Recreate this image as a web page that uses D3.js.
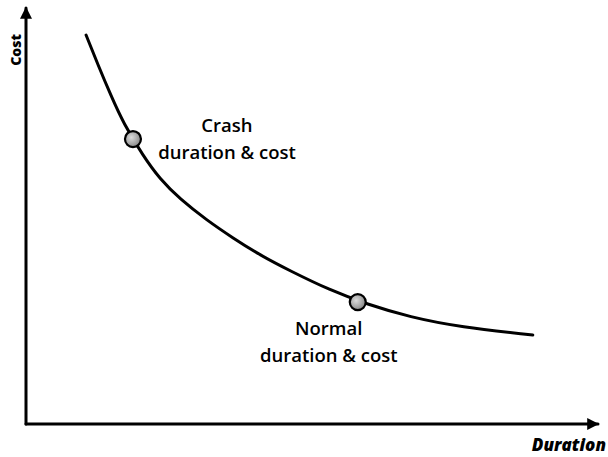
<!DOCTYPE html>
<html>
<head>
<meta charset="utf-8">
<script src="https://cdn.jsdelivr.net/npm/d3@7"></script>
<style>
  body { margin: 0; background: #fff; }
  text { font-family: "Open Sans", "Noto Sans", sans-serif; }
</style>
</head>
<body>
<svg id="chart" width="608" height="457"></svg>
<script>
// time-cost trade-off curve (arbitrary units, 0-100 on both axes)
const duration = [10.5, 12.6, 14.9, 17.0, 20.5, 23.4, 26.9, 31.6, 36.2, 40.9, 46.2, 53.1, 59.6, 67.1, 75.9, 88.6];
const cost     = [93.5, 86.3, 78.8, 72.4, 64.4, 58.9, 54.1, 49.0, 44.7, 40.6, 36.8, 32.2, 28.8, 25.7, 23.3, 21.4];

const pointNames    = ["Crash", "Normal"];
const pointDuration = [18.7, 58.0];
const pointCost     = [68.5, 29.3];
const pointLabels   = [["Crash", "duration & cost"], ["Normal", "duration & cost"]];

const xTitle = "Duration";
const yTitle = "Cost";

var svg = d3.select("#chart");
const margin = {top: 8, right: 10, bottom: 33, left: 26};
const width  = +svg.attr("width") - margin.left - margin.right;
const height = +svg.attr("height") - margin.top - margin.bottom;

var x = d3.scaleLinear().domain([0, 100]).range([0, width]);
var y = d3.scaleLinear().domain([0, 100]).range([height, 0]);

var defs = svg.append("defs");
defs.append("marker")
    .attr("id", "arrow")
    .attr("viewBox", "0 0 10 10")
    .attr("refX", 9).attr("refY", 5)
    .attr("markerWidth", 4).attr("markerHeight", 4)
    .attr("markerUnits", "strokeWidth")
    .attr("orient", "auto")
  .append("path")
    .attr("d", "M0,0 L10,5 L0,10 z")
    .attr("fill", "#000");

var grad = defs.append("radialGradient")
    .attr("id", "ball").attr("cx", "40%").attr("cy", "40%").attr("r", "60%");
grad.append("stop").attr("offset", "0%").attr("stop-color", "#dcdcdc");
grad.append("stop").attr("offset", "100%").attr("stop-color", "#8a8a8a");

var g = svg.append("g")
    .attr("transform", "translate(" + margin.left + "," + margin.top + ")");

// axes: no ticks, just the domain line with an arrow head
var xAxis = g.append("g")
    .attr("transform", "translate(0," + height + ")")
    .call(d3.axisBottom(x).ticks(0).tickSizeOuter(0));
var yAxis = g.append("g")
    .call(d3.axisLeft(y).ticks(0).tickSizeOuter(0));

// redraw domains so the path ends at the arrow side
yAxis.select(".domain").attr("d", "M0," + y(0) + "V" + y(100));
xAxis.select(".domain").attr("d", "M0,0H" + x(100));

[xAxis, yAxis].forEach(function(a){
    a.select(".domain")
        .attr("stroke", "#000")
        .attr("stroke-width", 3)
        .attr("stroke-linecap", "round")
        .attr("marker-end", "url(#arrow)");
});

var data = d3.zip(duration, cost);
var line = d3.line()
    .x(function(d) { return x(d[0]); })
    .y(function(d) { return y(d[1]); })
    .curve(d3.curveBasis);

g.append("path")
    .datum(data)
    .attr("fill", "none")
    .attr("stroke", "#000")
    .attr("stroke-width", 3)
    .attr("stroke-linecap", "round")
    .attr("d", line);

g.selectAll("circle.pt")
    .data(pointNames)
  .enter().append("circle")
    .attr("class", "pt")
    .attr("cx", function(d, i) { return x(pointDuration[i]); })
    .attr("cy", function(d, i) { return y(pointCost[i]); })
    .attr("r", 8)
    .attr("fill", "url(#ball)")
    .attr("stroke", "#000")
    .attr("stroke-width", 2.2);

// labels next to the points
const labelOffset = [[94, -7], [-29, 33]];
pointNames.forEach(function(name, i){
    var cx = x(pointDuration[i]) + labelOffset[i][0];
    var t = g.append("text")
        .attr("x", cx)
        .attr("y", y(pointCost[i]) + labelOffset[i][1])
        .attr("text-anchor", "middle")
        .style("font-size", "18.5px")
        .style("font-weight", 600);
    pointLabels[i].forEach(function(s, j){
        t.append("tspan")
            .attr("x", cx)
            .attr("dy", j === 0 ? 0 : 27)
            .text(s);
    });
});

svg.append("text")
    .attr("x", 606).attr("y", 451)
    .attr("text-anchor", "end")
    .style("font-size", "17px")
    .style("font-weight", 800)
    .style("font-style", "italic")
    .text(xTitle);

svg.append("text")
    .attr("transform", "translate(21,50) rotate(-90)")
    .attr("text-anchor", "middle")
    .style("font-size", "14px")
    .style("font-weight", 800)
    .text(yTitle);
</script>
</body>
</html>
